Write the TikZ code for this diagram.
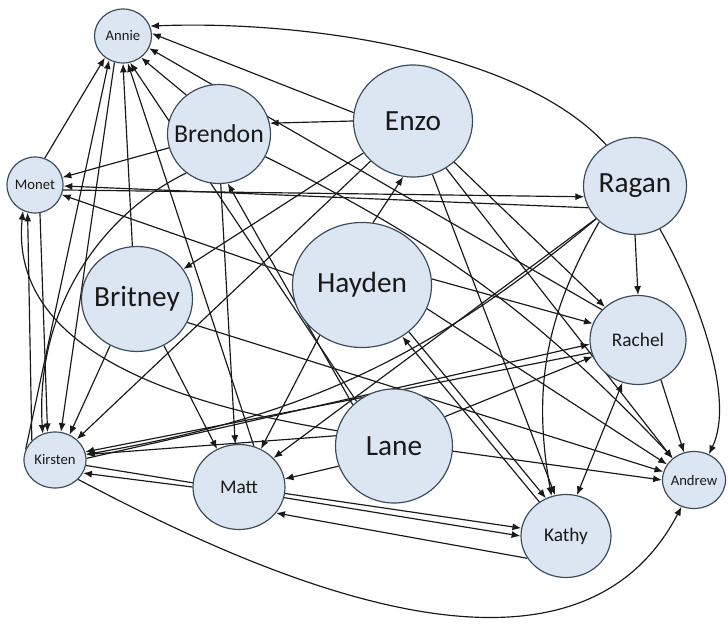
\documentclass[tikz,border=0pt]{standalone}
\usepackage{fontspec}
\setmainfont{Carlito}
\usetikzlibrary{shapes.geometric,arrows.meta,backgrounds}
\definecolor{bubble}{RGB}{220,230,242}
\definecolor{rim}{RGB}{58,76,92}
\definecolor{ink}{RGB}{25,25,25}

\begin{document}
\begin{tikzpicture}[x=0.03cm,y=0.03cm,
    guy/.style={ellipse,draw=rim,fill=bubble,line width=1pt,inner sep=0pt},
    namexl/.style={font=\fontsize{25}{28}\selectfont,text=ink},
    namel/.style={font=\fontsize{22}{25}\selectfont,text=ink},
    namem/.style={font=\fontsize{16.5}{19}\selectfont,text=ink},
    names/.style={font=\fontsize{12.5}{14}\selectfont,text=ink},
    edge/.style={draw=ink,line width=1pt,-{Latex[length=7.5pt,width=6pt]}},
    twoway/.style={draw=ink,line width=1pt,{Latex[length=7.5pt,width=6pt]}-{Latex[length=7.5pt,width=6pt]}}]
    \useasboundingbox (0,0) rectangle (728,-624);
    % people
    \node[guy,minimum width=1.71cm,minimum height=1.62cm,label={[names]center:Annie}] (annie) at (123,-36) {};
    \node[guy,minimum width=3.09cm,minimum height=2.97cm,label={[namel]center:Brendon}] (brendon) at (219,-134) {};
    \node[guy,minimum width=1.68cm,minimum height=1.68cm,label={[names]center:Monet}] (monet) at (35,-185) {};
    \node[guy,minimum width=3.57cm,minimum height=3.36cm,label={[namexl]center:Enzo}] (enzo) at (413,-121) {};
    \node[guy,minimum width=3.09cm,minimum height=2.91cm,label={[namexl]center:Ragan}] (ragan) at (635,-186) {};
    \node[guy,minimum width=3.33cm,minimum height=3.15cm,label={[namexl]center:Britney}] (britney) at (137,-299) {};
    \node[guy,minimum width=4.17cm,minimum height=3.75cm,label={[namexl]center:Hayden}] (hayden) at (362,-285) {};
    \node[guy,minimum width=2.88cm,minimum height=2.67cm,label={[namem]center:Rachel}] (rachel) at (638,-340) {};
    \node[guy,minimum width=3.51cm,minimum height=3.42cm,label={[namexl]center:Lane}] (lane) at (394,-446) {};
    \node[guy,minimum width=1.86cm,minimum height=1.68cm,label={[names]center:Kirsten}] (kirsten) at (55,-460) {};
    \node[guy,minimum width=2.76cm,minimum height=2.55cm,label={[namem]center:Matt}] (matt) at (239,-487) {};
    \node[guy,minimum width=2.70cm,minimum height=2.49cm,label={[namem]center:Kathy}] (kathy) at (566,-536) {};
    \node[guy,minimum width=1.89cm,minimum height=1.71cm,label={[names]center:Andrew}] (andrew) at (694,-480) {};
    \begin{scope}[on background layer]
    % into annie
    \draw[edge] (ragan.125) .. controls (520,-50) and (300,-20) .. (annie.20);
    \draw[edge] (enzo.172) -- (annie.5);
    \draw[edge] (rachel.140) -- (annie.-25);
    \draw[edge] (brendon.130) -- (annie.-50);
    \draw[edge] (monet.70) -- (annie.-130);
    \draw[edge] (kirsten.160) -- (annie.-120);
    \draw[edge] (annie.-108) -- (kirsten.78);
    \draw[edge] (britney.95) -- (annie.-90);
    \draw[edge] (matt.70) -- (annie.-80);
    \draw[edge] (lane.130) -- (annie.-75);
    % brendon
    \draw[edge] (enzo.180) -- (brendon.12);
    \draw[edge] (brendon) -- (monet);
    \draw[edge] (brendon.-88) -- (matt.95);
    \draw[edge] (lane.135) -- (brendon.-80);
    \draw[edge] (brendon.-130) .. controls (100,-215) and (35,-310) .. (kirsten.115);
    \draw[edge] (brendon) to[bend left=10] (andrew);
    % enzo
    \draw[edge] (enzo) -- (britney);
    \draw[edge] (enzo) -- (kirsten);
    \draw[edge] (enzo.-45) -- (rachel.135);
    \draw[edge] (enzo.-70) -- (kathy.105);
    \draw[edge] (enzo.-55) -- (andrew.135);
    % hayden
    \draw[edge] (hayden.80) -- (enzo.-100);
    \draw[edge] (hayden.172) -- (monet.-20);
    \draw[edge] (hayden.5) -- (rachel.160);
    \draw[edge] (hayden.-20) -- (andrew.150);
    \draw[edge] (hayden.-130) -- (matt.60);
    \draw[edge] (hayden.-45) -- (kathy.118);
    \draw[edge] (kathy.128) -- (hayden.-52);
    % ragan
    \draw[edge] (ragan.-90) -- (rachel.90);
    \draw[edge] (ragan.-60) .. controls (700,-300) and (735,-400) .. (andrew.60);
    \draw[edge] (ragan.-155) -- (monet.-2);
    \draw[edge] (monet.-10) -- (ragan.-168);
    \draw[edge] (ragan.-140) -- (matt.40);
    \draw[edge] (ragan) to[bend left=15] (kirsten);
    \draw[edge] (ragan.-135) to[bend right=20] (kathy.110);
    % rachel
    \draw[edge] (rachel.-60) -- (andrew.110);
    \draw[edge] (rachel.195) -- (kirsten.15);
    \draw[edge] (kirsten.3) -- (rachel.185);
    \draw[twoway] (kathy.75) -- (rachel.-110);
    % lane
    \draw[edge] (lane.-5) -- (andrew.180);
    \draw[edge] (lane.-160) -- (matt.10);
    \draw[edge] (lane.170) -- (kirsten.10);
    \draw[edge] (lane.30) -- (rachel.-160);
    \draw[edge] (lane.165) .. controls (150,-400) and (10,-340) .. (monet.-115);
    % britney
    \draw[edge] (britney.-120) -- (kirsten.60);
    \draw[edge] (britney.-60) -- (matt.120);
    \draw[edge] (britney.-25) -- (andrew.165);
    % matt, kathy, kirsten, monet
    \draw[edge] (matt.-8) -- (kathy.170);
    \draw[edge] (kirsten.-10) -- (kathy.180);
    \draw[edge] (kathy.-150) -- (matt.-35);
    \draw[edge] (matt.180) -- (kirsten.-25);
    \draw[edge] (kirsten.140) -- (monet.-105);
    \draw[edge] (monet.-80) -- (kirsten.105);
    \draw[edge] (kirsten.-40) .. controls (250,-570) and (570,-720) .. (andrew.-115);
    \end{scope}
\end{tikzpicture}
\end{document}
